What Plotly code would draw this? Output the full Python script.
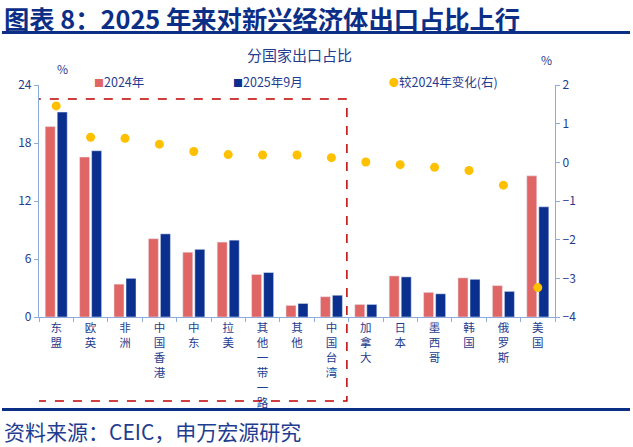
import plotly.graph_objects as go

categories = ["东盟", "欧英", "非洲", "中国香港", "中东", "拉美", "其他一带一路", "其他",
              "中国台湾", "加拿大", "日本", "墨西哥", "韩国", "俄罗斯", "美国"]
share_2024 = [19.7, 16.55, 3.4, 8.1, 6.7, 7.75, 4.4, 1.2, 2.1, 1.3, 4.25, 2.55, 4.05, 3.25, 14.6]
share_2025 = [21.2, 17.2, 4.0, 8.6, 7.0, 7.95, 4.6, 1.4, 2.25, 1.3, 4.15, 2.4, 3.9, 2.65, 11.4]
change = [1.46, 0.65, 0.62, 0.47, 0.28, 0.2, 0.19, 0.19, 0.12, 0.01, -0.06, -0.13, -0.21, -0.59, -3.24]
left_ticks = [0, 6, 12, 18, 24]
right_ticks = [-4, -3, -2, -1, 0, 1, 2]

RED = "#E06666"
BLUE = "#0A2F8F"
GOLD = "#FFC000"
NAVY = "#0B2E86"
TXT = "#1F3D8F"
AXIS = "#8FAADC"
FONT = "Noto Sans CJK SC"

fig = go.Figure()
fig.add_trace(go.Bar(x=categories, y=share_2024, name="2024年", marker_color=RED, yaxis="y"))
fig.add_trace(go.Bar(x=categories, y=share_2025, name="2025年9月", marker_color=BLUE, yaxis="y"))
fig.add_trace(go.Scatter(x=categories, y=change, name="较2024年变化(右)", mode="markers",
                         marker=dict(color=GOLD, size=9), yaxis="y2"))

fig.update_layout(
    width=633, height=447,
    margin=dict(l=39, r=78, t=85, b=130, autoexpand=False),
    paper_bgcolor="white", plot_bgcolor="white",
    showlegend=False,
    barmode="group", bargap=0.3, bargroupgap=0.17,
    font=dict(family=FONT, color=TXT, size=12),
    xaxis=dict(
        type="category", automargin=False, range=[-0.5, len(categories) - 0.5],
        tickvals=categories,
        ticktext=["<br>".join(list(c)) for c in categories],
        tickfont=dict(size=11.5, color=TXT),
        showline=True, linecolor=AXIS, linewidth=1.2,
        ticks="outside", tickson="boundaries", ticklen=4, tickcolor=AXIS,
        showgrid=False, zeroline=False,
    ),
    yaxis=dict(
        range=[0, 24], tickvals=left_ticks, automargin=False,
        showline=True, linecolor=AXIS, linewidth=1.2,
        ticks="outside", ticklen=4, tickcolor=AXIS,
        showgrid=False, zeroline=False,
        tickfont=dict(size=12, color=TXT),
    ),
    yaxis2=dict(
        range=[-4, 2], tickvals=right_ticks, overlaying="y", side="right", automargin=False,
        showline=True, linecolor=AXIS, linewidth=1.2,
        ticks="outside", ticklen=4, tickcolor=AXIS,
        showgrid=False, zeroline=False,
        tickfont=dict(size=12, color=TXT),
    ),
)

# title, rules, source
fig.add_annotation(text="<b>图表 8：2025 年来对新兴经济体出口占比上行</b>", xref="paper", yref="paper",
                   x=-37/516, y=(317-17.5)/232, xanchor="left", yanchor="middle", showarrow=False,
                   font=dict(size=25.3, color=NAVY, family=FONT))
fig.add_shape(type="line", xref="paper", yref="paper", x0=-37/516, x1=(630-39)/516,
              y0=(317-32.5)/232, y1=(317-32.5)/232, line=dict(color=NAVY, width=3))
fig.add_shape(type="line", xref="paper", yref="paper", x0=-37/516, x1=(630-39)/516,
              y0=(317-409.5)/232, y1=(317-409.5)/232, line=dict(color=NAVY, width=3))
fig.add_annotation(text="资料来源：CEIC，申万宏源研究", xref="paper", yref="paper",
                   x=-37/516, y=(317-431.5)/232, xanchor="left", yanchor="middle", showarrow=False,
                   font=dict(size=21, color=TXT, family=FONT))

# chart subtitle and units
fig.add_annotation(text="分国家出口占比", xref="paper", yref="paper", x=(299-39)/516, y=(317-55)/232,
                   xanchor="center", yanchor="middle", showarrow=False, font=dict(size=15, color=TXT))
fig.add_annotation(text="%", xref="paper", yref="paper", x=(62-39)/516, y=(317-68)/232,
                   xanchor="center", yanchor="middle", showarrow=False, font=dict(size=12, color=TXT))
fig.add_annotation(text="%", xref="paper", yref="paper", x=(546-39)/516, y=(317-60)/232,
                   xanchor="center", yanchor="middle", showarrow=False, font=dict(size=12, color=TXT))

# legend as text
legend_items = [("■", RED, "2024年", 92), ("■", BLUE, "2025年9月", 231), ("●", GOLD, "较2024年变化(右)", 387)]
for sym, col, label, px in legend_items:
    fig.add_annotation(text=f"<span style='color:{col};font-size:10px'>{sym}</span>{label}",
                       xref="paper", yref="paper", x=(px-39)/516, y=(317-82)/232,
                       xanchor="left", yanchor="middle", showarrow=False,
                       font=dict(size=12.5, color=TXT))

# dashed highlight box
fig.add_shape(type="rect", xref="x", yref="paper", x0=-0.56, x1=8.45,
              y0=(317-401)/232, y1=(317-99)/232,
              line=dict(color="#C00000", width=1.5, dash="dash"))

post = "document.body.style.margin='0px';document.body.style.padding='0px';"
fig.write_html("out.html", config={"displayModeBar": False}, post_script=post)
